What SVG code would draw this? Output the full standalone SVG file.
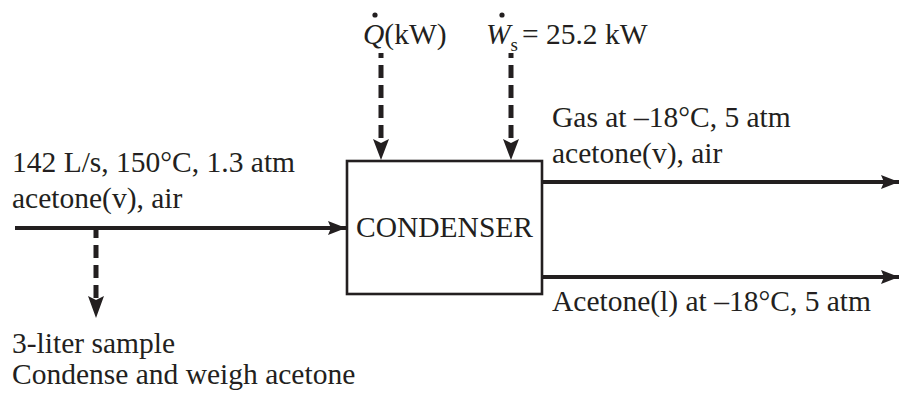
<svg xmlns="http://www.w3.org/2000/svg" width="899" height="396" viewBox="0 0 899 396">
<style>
text{font-family:"Liberation Serif","Times New Roman",serif;font-size:29.5px;fill:#231f20}
.solid{stroke:#231f20;stroke-width:4;fill:none}
.dash{stroke:#231f20;stroke-width:5;stroke-dasharray:13 7;fill:none}
.box{stroke:#231f20;stroke-width:2.6;fill:#fff}
.head{fill:#231f20}
</style>
<defs>
<marker id="ahl" markerWidth="18" markerHeight="14" refX="18" refY="7" orient="auto" markerUnits="userSpaceOnUse" viewBox="0 0 18 14">
<path d="M0,0 L18,7 L0,14 L3,7 Z" fill="#231f20"/>
</marker>
</defs>
<g id="connectors">
<line class="solid" x1="15" y1="228" x2="346" y2="228" marker-end="url(#ahl)"/>
<line class="solid" x1="542" y1="182" x2="899" y2="182" marker-end="url(#ahl)"/>
<line class="solid" x1="542" y1="277" x2="899" y2="277" marker-end="url(#ahl)"/>
<line class="dash" x1="381" y1="53" x2="381" y2="142" stroke-dashoffset="8"/>
<path class="head" d="M373,139 L381,143 L389,139 L381,160 Z"/>
<line class="dash" x1="511" y1="53" x2="511" y2="142" stroke-dashoffset="8"/>
<path class="head" d="M503,139 L511,143 L519,139 L511,160 Z"/>
<line class="dash" x1="96" y1="229" x2="96" y2="298" stroke-dashoffset="4"/>
<path class="head" d="M88,296 L96,300 L104,296 L96,318 Z"/>
</g>
<g id="condenser">
<rect class="box" x="347" y="161" width="195" height="133"/>
<text x="444.5" y="237" text-anchor="middle">CONDENSER</text>
</g>
<g id="heat">
<text x="363" y="44"><tspan font-style="italic">Q</tspan>(kW)</text>
<circle cx="375" cy="15" r="2.6" fill="#231f20"/>
</g>
<g id="work">
<text x="486" y="44"><tspan font-style="italic">W</tspan><tspan font-size="19" dy="7">s</tspan><tspan dy="-7" dx="4">= 25.2 kW</tspan></text>
<circle cx="502" cy="15" r="2.6" fill="#231f20"/>
</g>
<g id="feed">
<text x="12" y="172">142 L/s, 150°C, 1.3 atm</text>
<text x="12" y="208">acetone(v), air</text>
</g>
<g id="gas">
<text x="552" y="127">Gas at –18°C, 5 atm</text>
<text x="552" y="163">acetone(v), air</text>
</g>
<g id="liquid">
<text x="552" y="311">Acetone(l) at –18°C, 5 atm</text>
</g>
<g id="sample">
<text x="12" y="353">3-liter sample</text>
<text x="12" y="384">Condense and weigh acetone</text>
</g>
</svg>
